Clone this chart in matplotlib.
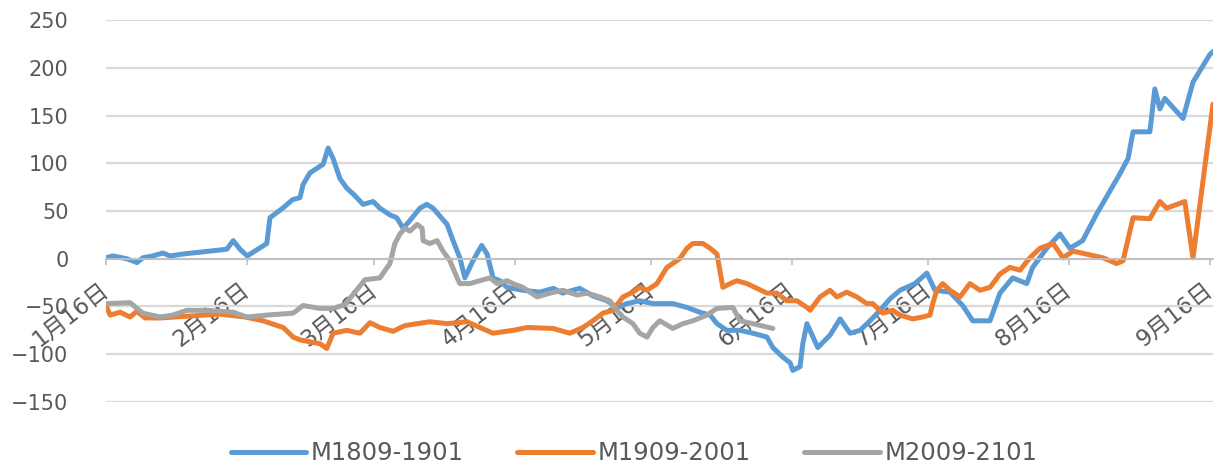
import numpy as np
import matplotlib
matplotlib.use('Agg')
import matplotlib.pyplot as plt
import matplotlib.transforms as mtransforms

plt.rcParams['font.family'] = ['DejaVu Sans', 'Noto Sans CJK SC']

# days counted from 1月16日
tick_days = [0, 31, 59, 90, 120, 151, 181, 212, 243]
tick_labels = ['1月16日', '2月16日', '3月16日', '4月16日', '5月16日',
               '6月16日', '7月16日', '8月16日', '9月16日']

# M1809-1901
blue_x = [0, 1.5, 4.6, 6.8, 8.1, 10.3, 12.5, 14.1, 17, 26.6,
          28, 29.5, 31.1, 35.4, 36.1, 38.9, 41.1, 42.7, 43.4, 44.9,
          47.8, 48.9, 50, 51.5, 53, 54.4, 56.6, 58.8, 60.3, 62.5,
          64, 65.4, 66.9, 69.1, 70.6, 72, 75.1, 76.4, 77.9, 79,
          80.8, 82.7, 83.9, 85.2, 86.7, 88.3, 91.8, 95.5, 98.5, 100.5,
          104.3, 107.2, 110.3, 112.5, 114.7, 117.5, 120.4, 124.8, 127.9, 130.7,
          133, 134.5, 136.7, 139.6, 142.4, 145.5, 146.8, 149, 150.6, 151.2,
          152.8, 153.4, 154.3, 156.7, 159.4, 161.6, 163.8, 166, 168.2, 170.4,
          172.6, 174.8, 178.1, 180.7, 182.5, 185.8, 188.6, 190.8, 194.6, 196.8,
          199.6, 202.7, 204, 207.1, 210, 212.2, 215, 218.1, 223.2, 225,
          226.1, 229.8, 230.9, 232, 233.1, 237.1, 239.3, 243, 243.7]
blue_y = [1, 3, 0, -4, 1, 3, 6, 3, 5, 10,
          19, 10, 3, 16, 43, 53, 62, 64, 78, 90,
          99, 116, 105, 84, 74, 68, 57, 60, 53, 46,
          43, 32, 40, 53, 57, 53, 36, 19, 1, -20,
          -2, 14, 5, -20, -23, -30, -33, -35, -31, -36,
          -31, -39, -44, -51, -47, -44, -47, -47, -51, -56,
          -59, -68, -75, -75, -78, -82, -93, -103, -109, -117,
          -113, -89, -68, -93, -80, -63, -78, -75, -65, -54,
          -42, -33, -26, -15, -33, -35, -49, -65, -65, -36,
          -20, -26, -9, 11, 26, 11, 19, 47, 89, 105,
          133, 133, 178, 157, 168, 147, 185, 214, 217]

# M1909-2001
orange_x = [0, 0.9, 3.1, 5.3, 6.8, 8.6, 11.9, 18.5, 25.1, 30.6,
            34.6, 39, 41.2, 42.7, 47.1, 48.6, 50, 53, 55.9, 58.1,
            60.3, 63.2, 65.8, 71.3, 75.1, 79.5, 82.3, 85.2, 89.6, 92.7,
            98.4, 102.1, 105, 107.2, 109.4, 111.6, 113.8, 116, 117.5, 119.1,
            121.3, 123.5, 126.3, 127.9, 129.2, 131.4, 133, 134.5, 135.8, 137.4,
            138.9, 141.1, 143.3, 145.5, 147.7, 149.9, 152.1, 154.3, 155, 157.2,
            159.4, 160.9, 163.1, 165.3, 167.5, 168.8, 171, 173.2, 174.8, 177.6,
            179.8, 181.4, 182, 182.9, 184.2, 185.8, 188, 190.2, 192.4, 194.6,
            196.8, 199, 201.2, 203.4, 205.6, 208.5, 210.7, 212.9, 219.5, 222.5,
            223.9, 226.1, 229.8, 232, 233.5, 237.5, 239.3, 243.7]
orange_y = [-49, -59, -56, -61, -55, -62, -62, -60, -58, -61,
            -65, -72, -82, -85, -89, -94, -78, -75, -78, -67,
            -72, -76, -70, -66, -68, -66, -72, -78, -75, -72,
            -73, -78, -72, -65, -57, -54, -40, -35, -30, -33,
            -26, -9, 0, 11, 16, 16, 11, 5, -30, -26,
            -23, -26, -31, -36, -36, -44, -44, -51, -54, -40,
            -33, -40, -35, -40, -47, -47, -57, -54, -59, -63,
            -61, -59, -47, -33, -26, -33, -40, -26, -33, -30,
            -16, -9, -12, 1, 11, 16, 1, 8, 1, -5,
            -2, 43, 42, 60, 53, 60, 1, 162]

# M2009-2101
grey_x = [0, 5.3, 8.1, 11.9, 14.7, 17.8, 22.2, 28, 31, 35.4,
          41.2, 43.4, 47.1, 50, 52.6, 54.8, 57, 60.3, 62.5, 63.6,
          64.7, 65.8, 66.9, 68.5, 69.6, 69.8, 71.3, 72.9, 74.2, 75.7,
          77.3, 77.9, 80.1, 82.3, 84.5, 86.1, 88.3, 89.6, 91.8, 94.9,
          97.7, 100.6, 103.7, 105.9, 108.7, 110.9, 112.5, 113.8, 116, 117.5,
          119.1, 120.4, 121.9, 124.8, 127, 129.2, 132.3, 134.5, 138, 139.6,
          142.4, 146.8]
grey_y = [-47, -46, -57, -61, -59, -54, -54, -56, -61, -59,
          -57, -49, -52, -52, -48, -35, -22, -20, -5, 16,
          26, 32, 29, 36, 32, 19, 16, 19, 8, -2,
          -20, -26, -26, -23, -20, -26, -23, -26, -30, -40,
          -36, -33, -38, -36, -40, -44, -54, -61, -68, -78,
          -82, -72, -65, -73, -68, -65, -59, -52, -51, -65,
          -68, -73]

series = [('M1809-1901', blue_x, blue_y, '#5B9BD5'),
          ('M1909-2001', orange_x, orange_y, '#ED7D31'),
          ('M2009-2101', grey_x, grey_y, '#A5A5A5')]

fig = plt.figure(figsize=(12.24, 4.69), dpi=100)
ax = fig.add_axes([0.0866, 0.143, 0.9044, 0.814])

for name, xs, ys, col in series:
    ax.plot(xs, ys, color=col, lw=3.6, label=name,
            solid_joinstyle='round', solid_capstyle='round')

ax.set_xlim(0, 243.7)
ax.set_ylim(-150, 250)
ax.set_yticks(np.arange(-150, 251, 50))
ax.yaxis.grid(True, color='#D9D9D9', lw=1.6)
ax.set_axisbelow(True)

for s in ['top', 'right', 'left']:
    ax.spines[s].set_visible(False)
ax.spines['bottom'].set_position(('data', 0))
ax.spines['bottom'].set_color('#BFBFBF')
ax.spines['bottom'].set_linewidth(1.3)

ax.tick_params(axis='y', length=0, pad=27, labelsize=15, labelcolor='#595959')
ax.tick_params(axis='x', length=4, color='#BFBFBF', width=1.2, pad=10,
               labelsize=16.5, labelcolor='#595959')
ax.set_xticks(tick_days)
ax.set_xticklabels(tick_labels, rotation=38, ha='right', rotation_mode='anchor')
shift = mtransforms.ScaledTranslation(-7 / 100, 0, fig.dpi_scale_trans)
for lab in ax.get_xticklabels():
    lab.set_transform(lab.get_transform() + shift)

ax.legend(loc='center', bbox_to_anchor=(0.518, 0.034), bbox_transform=fig.transFigure,
          ncol=3, frameon=False, fontsize=17.5, handlelength=3.1, handletextpad=0.2,
          columnspacing=2.2, labelcolor='#595959')

plt.savefig('out.png', dpi=100)
plt.close()
